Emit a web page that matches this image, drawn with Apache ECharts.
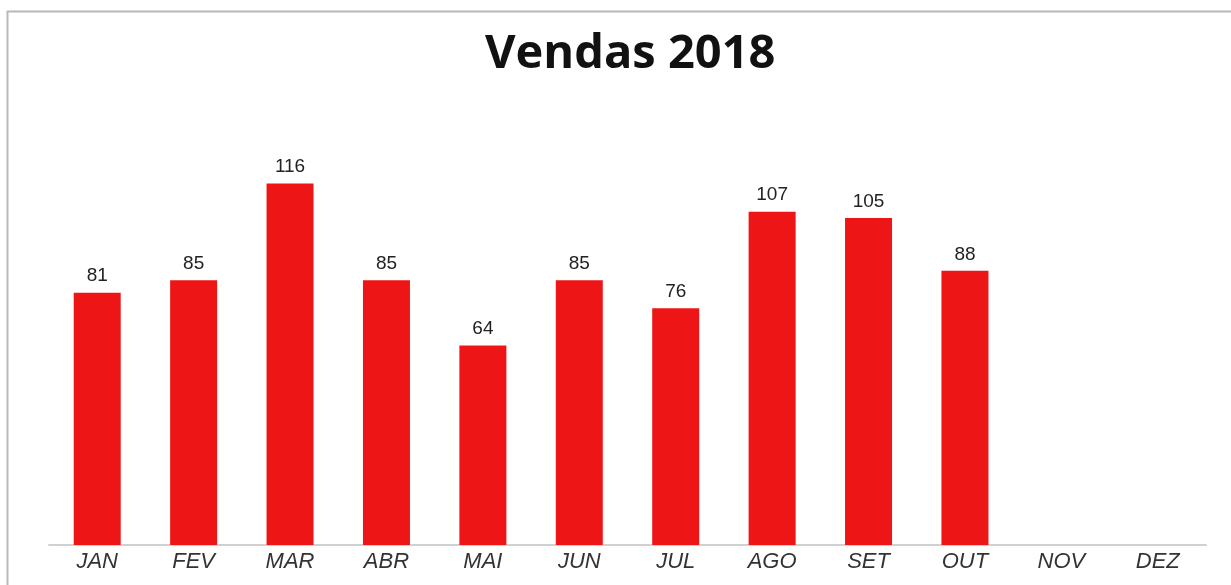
<!DOCTYPE html>
<html>
<head>
<meta charset="utf-8">
<script src="https://cdn.jsdelivr.net/npm/echarts@6/dist/echarts.min.js"></script>
<style>
  html, body { margin: 0; padding: 0; background: #fff; }
  #chart { width: 1231px; height: 585px; }
</style>
</head>
<body>
<div id="chart"></div>
<script>
// Vendas 2018 - monthly sales
const months = ['JAN', 'FEV', 'MAR', 'ABR', 'MAI', 'JUN', 'JUL', 'AGO', 'SET', 'OUT', 'NOV', 'DEZ'];
const sales = [81, 85, 116, 85, 64, 85, 76, 107, 105, 88, null, null];

const chart = echarts.init(document.getElementById('chart'));

const option = {
  backgroundColor: '#fff',
  animation: false,
  title: {
    text: 'Vendas 2018',
    left: 480,
    top: 26,
    textStyle: {
      fontFamily: 'Open Sans',
      fontWeight: 'bold',
      fontSize: 47,
      color: '#111'
    }
  },
  graphic: [
    {
      type: 'rect',
      shape: { x: 7.5, y: 11.5, width: 1240, height: 600 },
      style: { fill: 'none', stroke: '#b8b8b8', lineWidth: 2 },
      z: -1
    }
  ],
  grid: {
    left: 49,
    right: 25,
    top: 140,
    bottom: 40
  },
  xAxis: {
    type: 'category',
    data: months,
    axisLine: { lineStyle: { color: '#d0d0d0', width: 2 } },
    axisTick: { show: false },
    axisLabel: {
      fontFamily: 'Liberation Sans',
      fontStyle: 'italic',
      fontSize: 22,
      color: '#333',
      margin: 6
    }
  },
  yAxis: {
    type: 'value',
    min: 0,
    max: 130,
    show: false,
    splitLine: { show: false }
  },
  series: [
    {
      type: 'bar',
      data: sales,
      barWidth: 47,
      itemStyle: { color: '#ED1515' },
      label: {
        show: true,
        position: 'top',
        distance: 7,
        fontFamily: 'Liberation Sans',
        fontSize: 19,
        color: '#222'
      }
    }
  ]
};

chart.setOption(option);
</script>
</body>
</html>
